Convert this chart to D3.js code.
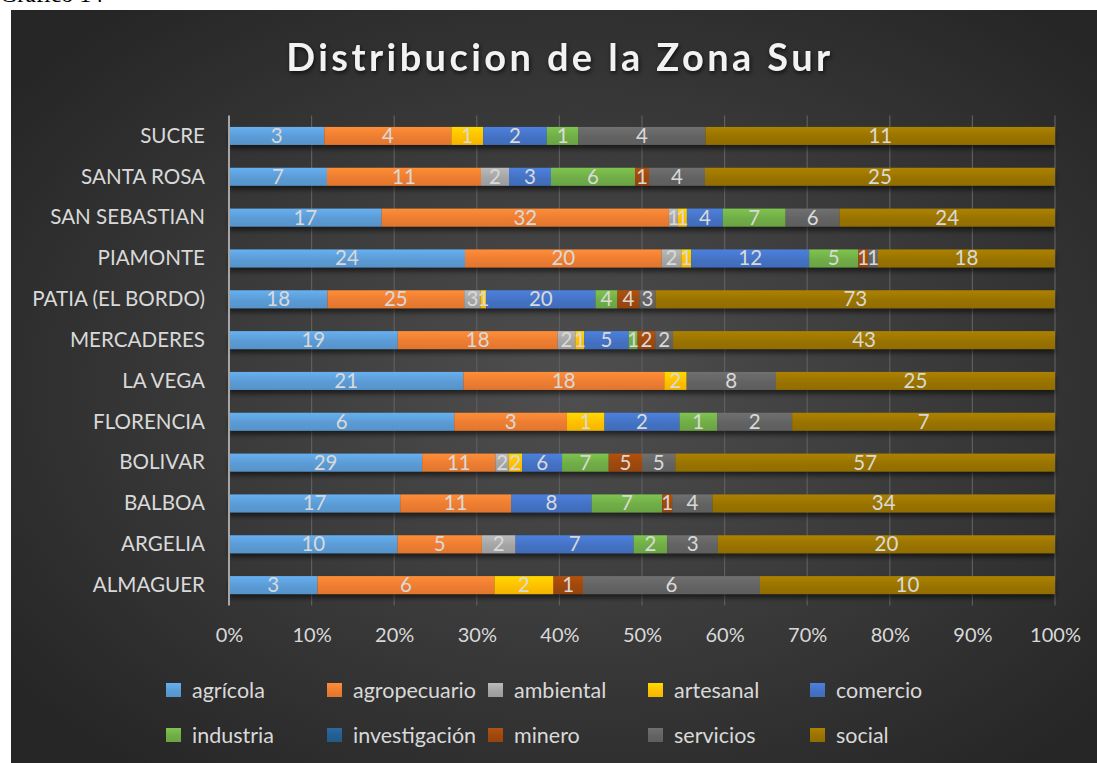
<!DOCTYPE html>
<html>
  <head>
    <meta charset="utf-8">
    <title>Distribucion de la Zona Sur</title>
    <script src="https://d3js.org/d3.v7.min.js"></script>
    <style>
      body { margin: 0; background: #fff; }
      text { font-family: Lato, "Open Sans", sans-serif; }
    </style>
  </head>
  <body>
    <div id="wrapper"></div>
    <script>
      // categories, listed top first as in the picture
      var municipios = ["SUCRE", "SANTA ROSA", "SAN SEBASTIAN", "PIAMONTE", "PATIA (EL BORDO)",
                        "MERCADERES", "LA VEGA", "FLORENCIA", "BOLIVAR", "BALBOA", "ARGELIA", "ALMAGUER"];

      var sectores = ["agrícola", "agropecuario", "ambiental", "artesanal", "comercio",
                      "industria", "investigación", "minero", "servicios", "social"];

      var colores = ["#5B9BD5", "#ED7D31", "#A5A5A5", "#FFC000", "#4472C4",
                     "#70AD47", "#255E91", "#9E480E", "#636363", "#997300"];

      // one array per sector, same order as municipios
      var agricola      = [3, 7, 17, 24, 18, 19, 21, 6, 29, 17, 10, 3];
      var agropecuario  = [4, 11, 32, 20, 25, 18, 18, 3, 11, 11, 5, 6];
      var ambiental     = [0, 2, 1, 2, 3, 2, 0, 0, 2, 0, 2, 0];
      var artesanal     = [1, 0, 1, 1, 1, 1, 2, 1, 2, 0, 0, 2];
      var comercio      = [2, 3, 4, 12, 20, 5, 0, 2, 6, 8, 7, 0];
      var industria     = [1, 6, 7, 5, 4, 1, 0, 1, 7, 7, 2, 0];
      var investigacion = [0, 0, 0, 0, 0, 0, 0, 0, 0, 0, 0, 0];
      var minero        = [0, 1, 0, 1, 4, 2, 0, 0, 5, 1, 0, 1];
      var servicios     = [4, 4, 6, 1, 3, 2, 8, 2, 5, 4, 3, 6];
      var social        = [11, 25, 24, 18, 73, 43, 25, 7, 57, 34, 20, 10];

      var series = [agricola, agropecuario, ambiental, artesanal, comercio,
                    industria, investigacion, minero, servicios, social];

      var ticksPct = [0, 0.1, 0.2, 0.3, 0.4, 0.5, 0.6, 0.7, 0.8, 0.9, 1];

      // build rows for d3.stack, normalised to 100%
      var rows = municipios.map(function(m, i) {
        var r = { name: m };
        sectores.forEach(function(s, k) { r[s] = series[k][i]; });
        return r;
      });

      var W = 1097, H = 763;
      var svg = d3.select("#wrapper").append("svg")
        .attr("width", W).attr("height", H);

      var defs = svg.append("defs");
      var bg = defs.append("radialGradient").attr("id", "bg")
        .attr("cx", "52%").attr("cy", "50%").attr("r", "65%");
      bg.append("stop").attr("offset", "0%").attr("stop-color", "#4f4f4f");
      bg.append("stop").attr("offset", "100%").attr("stop-color", "#262626");

      var shadow = defs.append("filter").attr("id", "shadow")
        .attr("x", "-5%").attr("y", "-10%").attr("width", "110%").attr("height", "130%");
      shadow.append("feDropShadow").attr("dx", 0).attr("dy", 4)
        .attr("stdDeviation", 2.5).attr("flood-color", "#000").attr("flood-opacity", 0.55);

      colores.forEach(function(c, k) {
        var g = defs.append("linearGradient").attr("id", "g" + k)
          .attr("x1", 0).attr("y1", 0).attr("x2", 0).attr("y2", 1);
        g.append("stop").attr("offset", "0%").attr("stop-color", d3.color(c).brighter(0.35));
        g.append("stop").attr("offset", "55%").attr("stop-color", c);
        g.append("stop").attr("offset", "100%").attr("stop-color", d3.color(c).darker(0.15));
      });

      // caption above the chart, cut off at the top
      svg.append("text").attr("x", 0).attr("y", 2)
        .style("font-family", "'Liberation Serif', serif").style("font-size", "24px")
        .attr("fill", "#000").text("Gráfico 14");

      svg.append("rect").attr("x", 11).attr("y", 10)
        .attr("width", W - 11).attr("height", H - 10).attr("fill", "url(#bg)");

      svg.append("text").attr("x", 560).attr("y", 71)
        .attr("text-anchor", "middle")
        .style("font-size", "38px").style("font-weight", "bold")
        .style("letter-spacing", "3.4px")
        .attr("fill", "#f2f2f2")
        .style("filter", "drop-shadow(1px 2px 2px rgba(0,0,0,0.7))")
        .text("Distribucion de la Zona Sur");

      var plotLeft = 229, plotRight = 1055, plotTop = 115.5, plotBottom = 605.5;

      var x = d3.scaleLinear().domain([0, 1]).range([plotLeft, plotRight]);
      var y = d3.scaleBand().domain(municipios).range([plotTop, plotBottom])
        .paddingInner(0.56).paddingOuter(0.28);

      // gridlines
      svg.append("g").selectAll("line").data(ticksPct.slice(1)).join("line")
        .attr("x1", function(d) { return x(d); }).attr("x2", function(d) { return x(d); })
        .attr("y1", plotTop).attr("y2", plotBottom)
        .attr("stroke", "#5e5e5e").attr("stroke-width", 1.2);

      var stack = d3.stack().keys(sectores).offset(d3.stackOffsetExpand);
      var layers = stack(rows);

      var gBars = svg.append("g").attr("filter", "url(#shadow)");
      layers.forEach(function(layer, k) {
        gBars.append("g").attr("fill", "url(#g" + k + ")")
          .selectAll("rect").data(layer).join("rect")
          .attr("x", function(d) { return x(d[0]); })
          .attr("width", function(d) { return x(d[1]) - x(d[0]); })
          .attr("y", function(d) { return y(d.data.name); })
          .attr("height", y.bandwidth());
      });

      var gLab = svg.append("g");
      layers.forEach(function(layer, k) {
        gLab.append("g").selectAll("text")
          .data(layer.filter(function(d) { return d.data[sectores[k]] > 0; }))
          .join("text")
          .attr("x", function(d) { return (x(d[0]) + x(d[1])) / 2; })
          .attr("y", function(d) { return y(d.data.name) + y.bandwidth() / 2 + 7; })
          .attr("text-anchor", "middle")
          .style("font-size", "20.5px")
          .attr("fill", "#d9d9d9")
          .text(function(d) { return d.data[sectores[k]]; });
      });

      // left axis line
      svg.append("line").attr("x1", plotLeft).attr("x2", plotLeft)
        .attr("y1", plotTop).attr("y2", plotBottom)
        .attr("stroke", "#a6a6a6").attr("stroke-width", 2);

      // category labels
      var yAxis = svg.append("g").attr("transform", "translate(" + (plotLeft - 7) + ",0)")
        .call(d3.axisLeft(y).tickSize(0).tickPadding(17));
      yAxis.select(".domain").remove();
      yAxis.selectAll("text").style("font-size", "20.6px").style("font-family", "Lato, sans-serif")
        .attr("fill", "#d9d9d9").attr("dy", "0.33em");

      // percent axis
      var xAxis = svg.append("g").attr("transform", "translate(0," + plotBottom + ")")
        .call(d3.axisBottom(x).tickValues(ticksPct).tickFormat(d3.format(".0%")).tickSize(0).tickPadding(22));
      xAxis.select(".domain").remove();
      xAxis.selectAll("text").style("font-size", "20px").style("font-family", "Lato, sans-serif")
        .attr("fill", "#d9d9d9");

      // legend, two rows of five
      var legX = [166, 327, 488, 648, 810];
      var legY = [690, 735];
      var leg = svg.append("g").selectAll("g").data(sectores).join("g")
        .attr("transform", function(d, i) {
          return "translate(" + legX[i % 5] + "," + legY[Math.floor(i / 5)] + ")";
        });
      leg.append("rect").attr("x", 0).attr("y", -7).attr("width", 15).attr("height", 14)
        .attr("fill", function(d, i) { return "url(#g" + i + ")"; });
      leg.append("text").attr("x", 26).attr("y", 7.5)
        .style("font-size", "21.5px").attr("fill", "#d9d9d9")
        .text(function(d) { return d; });
    </script>
  </body>
</html>
